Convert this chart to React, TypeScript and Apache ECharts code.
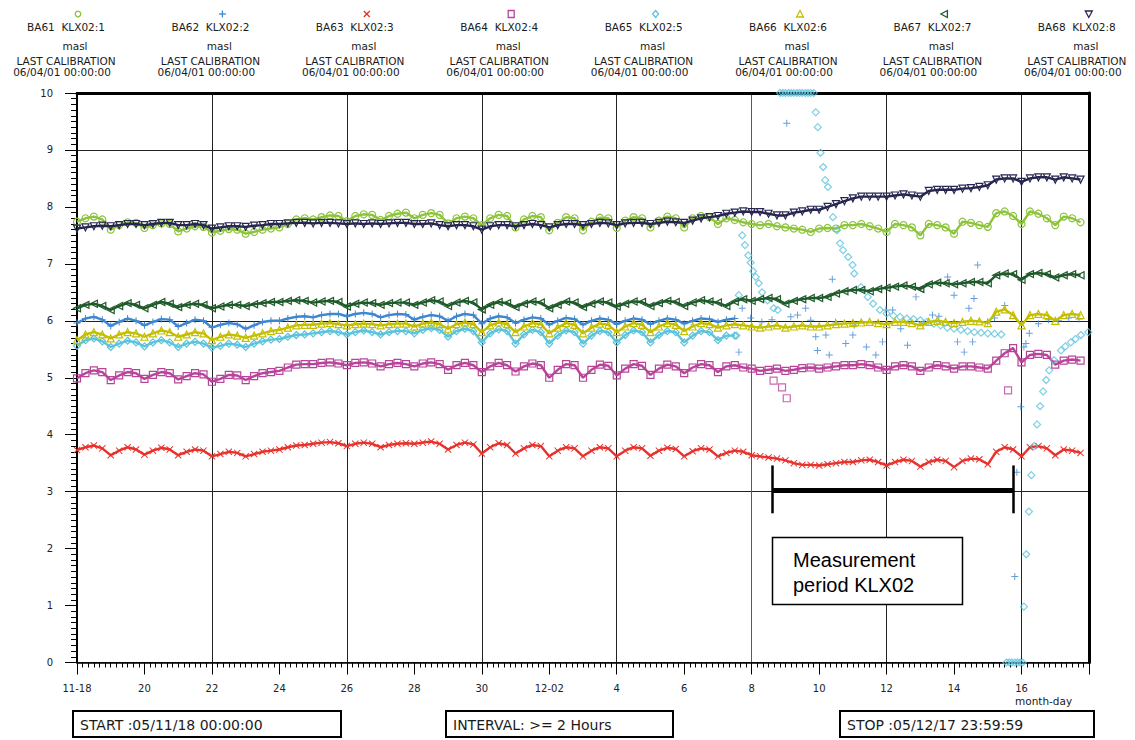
import React, { useEffect, useRef } from "react";
import * as echarts from "echarts";

// ---------- tick labels / legend texts ----------
const X_TICK_LABELS = ["11-18", "20", "22", "24", "26", "28", "30", "12-02", "4", "6", "8", "10", "12", "14", "16"];
const LEGEND_NAMES = ["BA61  KLX02:1", "BA62  KLX02:2", "BA63  KLX02:3", "BA64  KLX02:4", "BA65  KLX02:5", "BA66  KLX02:6", "BA67  KLX02:7", "BA68  KLX02:8"];
const UNIT = "masl";
const CALIB_TITLE = "LAST CALIBRATION";
const CALIB_DATE = "06/04/01 00:00:00";
const START_TEXT = "START :05/11/18 00:00:00";
const INTERVAL_TEXT = "INTERVAL: >= 2 Hours";
const STOP_TEXT = "STOP :05/12/17 23:59:59";
const NOTE_TEXT = "Measurement\nperiod KLX02";

// samples every 6 hours, starting 05/11/18 00:00 (day 0)
const SAMPLES_PER_DAY = 4;

// ---------- series values (masl) ----------
const BA61 = [
  7.74, 7.80, 7.83, 7.78, 7.60, 7.68, 7.73, 7.72, 7.63, 7.68, 7.71, 7.70, 7.57, 7.62, 7.66, 7.65,
  7.55, 7.58, 7.61, 7.60, 7.53, 7.56, 7.60, 7.62, 7.64, 7.70, 7.78, 7.80, 7.78, 7.82, 7.85, 7.84,
  7.75, 7.84, 7.87, 7.86, 7.77, 7.84, 7.88, 7.90, 7.80, 7.86, 7.89, 7.86, 7.71, 7.80, 7.83, 7.80,
  7.68, 7.80, 7.86, 7.84, 7.64, 7.78, 7.84, 7.82, 7.59, 7.72, 7.82, 7.80, 7.59, 7.74, 7.81, 7.80,
  7.63, 7.76, 7.82, 7.80, 7.64, 7.76, 7.83, 7.80, 7.64, 7.80, 7.84, 7.82, 7.70, 7.80, 7.77, 7.73,
  7.70, 7.68, 7.70, 7.66, 7.64, 7.62, 7.60, 7.56, 7.62, 7.63, 7.62, 7.68, 7.68, 7.70, 7.66, 7.62,
  7.56, 7.70, 7.68, 7.64, 7.50, 7.70, 7.68, 7.64, 7.53, 7.74, 7.72, 7.68, 7.65, 7.89, 7.92, 7.84,
  7.70, 7.92, 7.88, 7.80, 7.68, 7.83, 7.80, 7.73,
];
// regular band up to 12/07 12:00, afterwards scattered readings
const BA62 = [
  5.96, 6.04, 6.07, 6.02, 5.91, 5.98, 6.04, 6.00, 5.92, 5.98, 6.03, 6.02, 5.90, 5.96, 6.02, 6.00,
  5.88, 5.93, 5.96, 5.94, 5.86, 5.92, 5.98, 6.00, 6.00, 6.04, 6.07, 6.08, 6.06, 6.10, 6.12, 6.12,
  6.08, 6.12, 6.14, 6.12, 6.06, 6.10, 6.12, 6.11, 6.02, 6.07, 6.10, 6.08, 6.00, 6.08, 6.12, 6.10,
  5.95, 6.04, 6.08, 6.06, 5.96, 6.02, 6.06, 6.04, 5.93, 6.00, 6.05, 6.03, 5.93, 6.00, 6.04, 6.02,
  5.94, 6.00, 6.04, 6.02, 5.94, 6.00, 6.04, 6.02, 5.95, 6.00, 6.04, 6.03, 5.98, 6.02, 6.04,
];
const BA62_SCATTER = [
  [19.62, 5.45], [19.72, 6.22], [19.97, 6.05], [20.3, 5.98], [20.6, 6.02], [21.04, 9.47], [21.16, 6.07],
  [21.36, 6.10], [21.6, 6.22], [21.75, 6.01], [21.9, 5.72], [21.95, 5.48], [22.2, 5.75], [22.3, 5.40],
  [22.39, 6.73], [22.49, 5.98], [22.79, 5.60], [23.0, 5.75], [23.04, 5.92], [23.4, 5.54], [23.68, 5.40],
  [23.88, 5.63], [23.98, 6.19], [24.18, 6.19], [24.42, 5.86], [24.62, 5.57], [24.87, 6.42], [25.1, 5.96],
  [25.36, 6.10], [25.55, 6.08], [25.81, 6.77], [26.0, 6.45], [26.1, 5.63], [26.3, 5.45], [26.44, 6.22],
  [26.55, 5.63], [26.59, 6.39], [26.7, 6.98], [27.0, 5.98], [27.2, 6.05], [27.5, 6.27], [27.8, 1.51],
  [27.86, 3.34], [27.98, 4.49], [28.07, 5.54], [28.13, 5.60], [28.23, 5.78], [28.5, 5.95], [28.8, 6.02],
  [29.1, 6.00], [29.4, 6.05], [29.7, 6.03],
];
const BA63 = [
  3.73, 3.78, 3.81, 3.76, 3.64, 3.72, 3.78, 3.74, 3.65, 3.72, 3.77, 3.74, 3.64, 3.70, 3.74, 3.72,
  3.62, 3.66, 3.70, 3.68, 3.62, 3.66, 3.70, 3.72, 3.74, 3.78, 3.81, 3.82, 3.84, 3.86, 3.87, 3.85,
  3.80, 3.84, 3.86, 3.84, 3.78, 3.82, 3.84, 3.85, 3.84, 3.86, 3.88, 3.84, 3.74, 3.82, 3.86, 3.83,
  3.67, 3.78, 3.85, 3.82, 3.67, 3.76, 3.82, 3.80, 3.62, 3.72, 3.78, 3.76, 3.62, 3.72, 3.78, 3.76,
  3.62, 3.72, 3.78, 3.76, 3.63, 3.72, 3.77, 3.75, 3.62, 3.71, 3.76, 3.74, 3.62, 3.68, 3.72, 3.70,
  3.64, 3.62, 3.60, 3.58, 3.55, 3.50, 3.47, 3.47, 3.46, 3.48, 3.50, 3.52, 3.52, 3.55, 3.56, 3.52,
  3.46, 3.52, 3.56, 3.54, 3.44, 3.52, 3.56, 3.54, 3.43, 3.54, 3.58, 3.57, 3.48, 3.70, 3.78, 3.74,
  3.62, 3.78, 3.80, 3.76, 3.64, 3.74, 3.72, 3.68,
];
const BA64 = [
  4.99, 5.08, 5.13, 5.10, 4.96, 5.04, 5.10, 5.08, 4.98, 5.05, 5.10, 5.08, 4.97, 5.03, 5.08, 5.06,
  4.93, 4.98, 5.05, 5.04, 4.96, 5.03, 5.08, 5.10, 5.12, 5.18, 5.23, 5.24, 5.24, 5.26, 5.27, 5.25,
  5.22, 5.26, 5.27, 5.25, 5.20, 5.24, 5.26, 5.24, 5.20, 5.25, 5.27, 5.24, 5.14, 5.22, 5.26, 5.22,
  5.10, 5.20, 5.26, 5.22, 5.11, 5.20, 5.25, 5.22, 5.00, 5.14, 5.24, 5.22, 5.00, 5.14, 5.23, 5.21,
  5.04, 5.16, 5.24, 5.21, 5.05, 5.16, 5.23, 5.20, 5.08, 5.18, 5.24, 5.22, 5.10, 5.20, 5.22, 5.18,
  5.16, 5.12, 5.14, 5.16, 5.12, 5.14, 5.17, 5.18, 5.16, 5.18, 5.20, 5.22, 5.22, 5.24, 5.22, 5.18,
  5.14, 5.20, 5.22, 5.20, 5.12, 5.18, 5.22, 5.20, 5.16, 5.20, 5.20, 5.18, 5.16, 5.30, 5.43, 5.52,
  5.27, 5.40, 5.42, 5.40, 5.23, 5.30, 5.32, 5.30,
];
const BA64_SCATTER = [[20.65, 4.95], [20.9, 4.83], [21.04, 4.64], [27.6, 4.78]];
// regular band up to 12/07 12:00, then the disturbed record
const BA65 = [
  5.56, 5.66, 5.69, 5.64, 5.54, 5.60, 5.65, 5.62, 5.55, 5.62, 5.66, 5.62, 5.54, 5.60, 5.63, 5.60,
  5.53, 5.56, 5.60, 5.58, 5.54, 5.60, 5.64, 5.67, 5.68, 5.72, 5.75, 5.76, 5.78, 5.80, 5.82, 5.80,
  5.76, 5.80, 5.83, 5.80, 5.76, 5.80, 5.82, 5.82, 5.78, 5.84, 5.87, 5.84, 5.72, 5.82, 5.86, 5.82,
  5.62, 5.78, 5.85, 5.82, 5.60, 5.76, 5.84, 5.80, 5.60, 5.74, 5.83, 5.80, 5.60, 5.74, 5.82, 5.80,
  5.62, 5.75, 5.83, 5.80, 5.62, 5.75, 5.82, 5.80, 5.62, 5.74, 5.82, 5.80, 5.66, 5.74, 5.74,
];
const BA65_SCATTER = [
  [19.55, 5.74], [19.62, 6.45], [19.72, 7.50], [19.80, 7.33], [19.90, 7.15], [19.97, 7.02], [20.04, 6.87],
  [20.12, 6.77], [20.21, 6.66], [20.31, 6.50], [20.47, 6.36], [20.65, 6.22], [20.77, 6.19],
  [20.84, 10], [20.92, 10], [21.0, 10], [21.09, 10], [21.17, 10], [21.25, 10], [21.34, 10], [21.42, 10],
  [21.5, 10], [21.59, 10], [21.67, 10], [21.75, 10], [21.84, 10],
  [21.90, 9.66], [21.96, 9.40], [22.04, 8.95], [22.12, 8.70], [22.18, 8.47], [22.26, 8.35], [22.41, 7.82],
  [22.53, 7.59], [22.62, 7.36], [22.71, 7.24], [22.86, 7.12], [22.99, 6.98], [23.04, 6.83], [23.24, 6.59],
  [23.44, 6.42], [23.6, 6.30], [23.8, 6.19], [24.0, 6.13], [24.2, 6.09], [24.4, 6.07], [24.6, 6.04],
  [24.8, 6.03], [25.0, 6.01], [25.2, 5.98], [25.4, 5.95], [25.6, 5.92], [25.8, 5.88], [26.0, 5.86],
  [26.2, 5.84], [26.4, 5.82], [26.6, 5.80], [26.8, 5.79], [27.0, 5.78], [27.2, 5.77], [27.4, 5.76],
  [27.55, 0], [27.63, 0], [27.71, 0], [27.8, 0], [27.88, 0], [27.96, 0], [28.03, 0],
  [28.07, 0.98], [28.14, 1.90], [28.22, 2.65], [28.29, 3.29], [28.37, 3.80], [28.46, 4.18], [28.55, 4.50],
  [28.64, 4.76], [28.73, 4.96], [28.82, 5.13], [28.96, 5.31], [29.17, 5.48], [29.3, 5.55], [29.46, 5.62],
  [29.6, 5.68], [29.76, 5.75], [29.98, 5.80],
];
const BA66 = [
  5.66, 5.76, 5.80, 5.76, 5.69, 5.76, 5.80, 5.78, 5.72, 5.78, 5.83, 5.80, 5.72, 5.76, 5.80, 5.78,
  5.66, 5.72, 5.76, 5.74, 5.70, 5.74, 5.78, 5.82, 5.84, 5.88, 5.92, 5.93, 5.93, 5.95, 5.96, 5.94,
  5.92, 5.94, 5.95, 5.94, 5.92, 5.94, 5.95, 5.95, 5.90, 5.95, 5.97, 5.94, 5.86, 5.94, 5.97, 5.94,
  5.80, 5.92, 5.97, 5.94, 5.80, 5.90, 5.96, 5.94, 5.78, 5.88, 5.96, 5.93, 5.78, 5.88, 5.95, 5.93,
  5.80, 5.90, 5.96, 5.93, 5.80, 5.90, 5.96, 5.93, 5.82, 5.90, 5.96, 5.94, 5.88, 5.92, 5.94, 5.92,
  5.90, 5.88, 5.90, 5.92, 5.88, 5.90, 5.92, 5.90, 5.90, 5.92, 5.94, 5.95, 5.96, 5.97, 5.98, 5.96,
  5.94, 5.98, 5.98, 5.96, 5.92, 5.98, 6.00, 5.98, 5.96, 5.98, 6.00, 5.99, 5.96, 6.16, 6.20, 6.10,
  5.92, 6.10, 6.12, 6.10, 6.00, 6.10, 6.12, 6.10,
];
const BA67 = [
  6.22, 6.28, 6.30, 6.26, 6.19, 6.26, 6.31, 6.28, 6.22, 6.28, 6.33, 6.30, 6.24, 6.28, 6.30, 6.28,
  6.22, 6.25, 6.28, 6.28, 6.26, 6.29, 6.31, 6.33, 6.33, 6.35, 6.36, 6.35, 6.32, 6.34, 6.35, 6.33,
  6.25, 6.30, 6.32, 6.31, 6.28, 6.31, 6.32, 6.32, 6.28, 6.32, 6.36, 6.34, 6.26, 6.32, 6.35, 6.32,
  6.20, 6.28, 6.33, 6.31, 6.24, 6.30, 6.34, 6.32, 6.22, 6.28, 6.34, 6.32, 6.24, 6.30, 6.34, 6.32,
  6.25, 6.30, 6.34, 6.33, 6.26, 6.31, 6.35, 6.33, 6.26, 6.32, 6.36, 6.34, 6.32, 6.26, 6.34, 6.38,
  6.35, 6.38, 6.40, 6.38, 6.30, 6.35, 6.38, 6.40, 6.40, 6.42, 6.48, 6.52, 6.54, 6.54, 6.52, 6.56,
  6.58, 6.60, 6.62, 6.60, 6.56, 6.64, 6.67, 6.66, 6.64, 6.66, 6.68, 6.68, 6.66, 6.80, 6.83, 6.82,
  6.72, 6.82, 6.84, 6.82, 6.76, 6.80, 6.82, 6.80,
];
const BA68 = [
  7.62, 7.64, 7.66, 7.67, 7.66, 7.68, 7.70, 7.70, 7.68, 7.70, 7.72, 7.72, 7.68, 7.68, 7.70, 7.68,
  7.62, 7.64, 7.66, 7.66, 7.65, 7.67, 7.68, 7.70, 7.70, 7.71, 7.72, 7.72, 7.71, 7.72, 7.72, 7.71,
  7.70, 7.71, 7.70, 7.71, 7.70, 7.71, 7.72, 7.72, 7.70, 7.70, 7.71, 7.68, 7.66, 7.68, 7.68, 7.66,
  7.60, 7.66, 7.68, 7.68, 7.66, 7.68, 7.70, 7.68, 7.64, 7.68, 7.70, 7.70, 7.68, 7.70, 7.72, 7.71,
  7.68, 7.71, 7.72, 7.72, 7.70, 7.72, 7.74, 7.73, 7.72, 7.76, 7.80, 7.82, 7.84, 7.88, 7.90, 7.92,
  7.91, 7.91, 7.88, 7.85, 7.85, 7.90, 7.92, 7.95, 7.95, 8.00, 8.05, 8.10, 8.15, 8.18, 8.18, 8.18,
  8.18, 8.20, 8.22, 8.20, 8.18, 8.28, 8.30, 8.30, 8.30, 8.32, 8.33, 8.35, 8.38, 8.48, 8.50, 8.50,
  8.44, 8.50, 8.52, 8.52, 8.48, 8.52, 8.50, 8.48,
];

// measurement period of KLX02 (days from start) and the level at which it is marked
const PERIOD = [20.62, 27.76];
const PERIOD_LEVEL = 3.03;
const PERIOD_TICK = [2.62, 3.46];
const HIGHLIGHT_DAY = 20;

// ---------- styles ----------
const COLORS = ["#8cc43c", "#3f86d0", "#e8322c", "#b8449a", "#5cc3dc", "#c3bf00", "#1f5a2a", "#262650"];
const PLUS = "path://M4.3,0H5.7V4.3H10V5.7H5.7V10H4.3V5.7H0V4.3H4.3Z";
const CROSS = "path://M1,0L5,4L9,0L10,1L6,5L10,9L9,10L5,6L1,10L0,9L4,5L0,1Z";
const LEFT_TRI = "path://M0,5L9,0L9,10Z";
const DOWN_TRI = "path://M0,0L10,0L5,9Z";
const SYMBOLS = ["circle", PLUS, CROSS, "rect", "diamond", "triangle", LEFT_TRI, DOWN_TRI];
const FILLED = [false, true, true, false, false, false, false, false];
const FONT = "DejaVu Sans";

const toPairs = (vals: number[]) => vals.map((v, i) => [i / SAMPLES_PER_DAY, v]);

function itemStyleFor(i: number) {
  return FILLED[i]
    ? { color: COLORS[i], borderWidth: 0 }
    : { color: "rgba(255,255,255,0)", borderColor: COLORS[i], borderWidth: 1.2 };
}

function bandSeries(i: number, vals: number[], extra: any = {}) {
  return {
    type: "line",
    name: LEGEND_NAMES[i],
    data: toPairs(vals),
    symbol: SYMBOLS[i],
    symbolSize: 7,
    showSymbol: true,
    lineStyle: { color: COLORS[i], width: 2.4 },
    itemStyle: itemStyleFor(i),
    emphasis: { disabled: true },
    silent: true,
    z: 2 + i,
    ...extra,
  };
}

function scatterSeries(i: number, pts: number[][]) {
  return {
    type: "scatter",
    name: LEGEND_NAMES[i] + " scatter",
    data: pts,
    symbol: SYMBOLS[i],
    symbolSize: 7,
    itemStyle: itemStyleFor(i),
    emphasis: { disabled: true },
    silent: true,
    clip: false,
    z: 2 + i,
  };
}

function legendSymbol(i: number, x: number, y: number): any {
  const c = COLORS[i];
  const st = { fill: "none", stroke: c, lineWidth: 1.3 };
  switch (i) {
    case 0:
      return { type: "circle", shape: { cx: x, cy: y, r: 2.8 }, style: st };
    case 1:
      return {
        type: "group",
        children: [
          { type: "line", shape: { x1: x - 3.5, y1: y, x2: x + 3.5, y2: y }, style: st },
          { type: "line", shape: { x1: x, y1: y - 3.5, x2: x, y2: y + 3.5 }, style: st },
        ],
      };
    case 2:
      return {
        type: "group",
        children: [
          { type: "line", shape: { x1: x - 3, y1: y - 3, x2: x + 3, y2: y + 3 }, style: st },
          { type: "line", shape: { x1: x - 3, y1: y + 3, x2: x + 3, y2: y - 3 }, style: st },
        ],
      };
    case 3:
      return { type: "rect", shape: { x: x - 3, y: y - 3.5, width: 6, height: 7 }, style: st };
    case 4:
      return { type: "polygon", shape: { points: [[x, y - 3.5], [x + 3, y], [x, y + 3.5], [x - 3, y]] }, style: st };
    case 5:
      return { type: "polygon", shape: { points: [[x, y - 3.5], [x + 3.5, y + 3], [x - 3.5, y + 3]] }, style: st };
    case 6:
      return { type: "polygon", shape: { points: [[x - 3.5, y], [x + 3, y - 3.5], [x + 3, y + 3.5]] }, style: st };
    default:
      return { type: "polygon", shape: { points: [[x - 3.5, y - 3], [x + 3.5, y - 3], [x, y + 3.5]] }, style: st };
  }
}

function buildGraphic() {
  const els: any[] = [];
  const txt = (text: string, x: number, y: number, align: string, size: number, extra: any = {}) => ({
    type: "text",
    x,
    y,
    silent: true,
    z: 100,
    style: { text, fill: "#1a1a1a", font: `${size}px '${FONT}'`, align, verticalAlign: "middle", ...extra },
  });
  LEGEND_NAMES.forEach((name, i) => {
    const cx = 66 + 144.4 * i;
    const s = legendSymbol(i, cx + 12, 14);
    s.z = 100;
    els.push(s);
    els.push(txt(name, cx, 27, "center", 10.5));
    els.push(txt(UNIT, cx + 9, 46, "center", 10.5));
    els.push(txt(CALIB_TITLE, cx, 61, "center", 10.5));
    els.push(txt(CALIB_DATE, cx - 4, 72, "center", 10.5));
  });
  els.push(txt("month-day", 1015, 701, "left", 10.5));
  const box = (x: number, w: number, text: string) => {
    els.push({
      type: "rect",
      z: 100,
      silent: true,
      shape: { x, y: 711, width: w, height: 26 },
      style: { fill: "#fff", stroke: "#000", lineWidth: 2 },
    });
    els.push(txt(text, x + 7, 724.5, "left", 14));
  };
  box(73, 268, START_TEXT);
  box(446, 227, INTERVAL_TEXT);
  box(840, 254, STOP_TEXT);
  els.push({
    type: "rect",
    z: 100,
    silent: true,
    shape: { x: 772.5, y: 537.5, width: 190, height: 67 },
    style: { fill: "#fff", stroke: "#000", lineWidth: 1.5 },
  });
  els.push({
    type: "text",
    x: 793,
    y: 547,
    z: 101,
    silent: true,
    style: {
      text: NOTE_TEXT,
      fill: "#000",
      font: "20px 'Liberation Sans', Arial, sans-serif",
      lineHeight: 25,
      align: "left",
      verticalAlign: "top",
    },
  });
  return els;
}

function buildOption(): any {
  const gridColors = [0, 4, 8, 12, 16, 20, 24, 28, 30].map((d) => (d === HIGHLIGHT_DAY ? "#7a4b4b" : "#222"));
  const series: any[] = [
    bandSeries(0, BA61),
    bandSeries(1, BA62),
    scatterSeries(1, BA62_SCATTER),
    bandSeries(2, BA63, {
      markLine: {
        silent: true,
        symbol: ["none", "none"],
        label: { show: false },
        emphasis: { disabled: true },
        lineStyle: { color: "#000", type: "solid", width: 5 },
        data: [
          [{ coord: [PERIOD[0], PERIOD_LEVEL], lineStyle: { width: 5, color: "#000", type: "solid" } }, { coord: [PERIOD[1], PERIOD_LEVEL] }],
          [{ coord: [PERIOD[0], PERIOD_TICK[0]], lineStyle: { width: 2.5, color: "#000", type: "solid" } }, { coord: [PERIOD[0], PERIOD_TICK[1]] }],
          [{ coord: [PERIOD[1], PERIOD_TICK[0]], lineStyle: { width: 2.5, color: "#000", type: "solid" } }, { coord: [PERIOD[1], PERIOD_TICK[1]] }],
        ],
      },
    }),
    bandSeries(3, BA64),
    scatterSeries(3, BA64_SCATTER),
    bandSeries(4, BA65),
    scatterSeries(4, BA65_SCATTER),
    bandSeries(5, BA66),
    bandSeries(6, BA67),
    bandSeries(7, BA68),
  ];
  return {
    animation: false,
    backgroundColor: "#fff",
    textStyle: { fontFamily: FONT },
    grid: { left: 77, top: 93, right: 46, bottom: 77.5, containLabel: false },
    xAxis: [
      {
        type: "value",
        min: 0,
        max: 30,
        interval: 2,
        position: "bottom",
        axisLine: { show: true, onZero: false, lineStyle: { color: "#000", width: 1.5 } },
        axisTick: { show: true, length: 12, lineStyle: { color: "#000", width: 1 } },
        minorTick: { show: true, splitNumber: 12, length: 5, lineStyle: { color: "#000", width: 1 } },
        axisLabel: {
          margin: 21,
          fontSize: 10,
          color: "#222",
          fontFamily: FONT,
          showMinLabel: true,
          showMaxLabel: true,
          formatter: (v: number) => X_TICK_LABELS[Math.round(v / 2)] ?? "",
        },
        splitLine: { show: false },
      },
      {
        type: "value",
        min: 0,
        max: 30,
        interval: 4,
        position: "top",
        axisLine: { show: true, onZero: false, lineStyle: { color: "#000", width: 3 } },
        axisTick: { show: false },
        axisLabel: { show: false },
        splitLine: { show: true, lineStyle: { color: gridColors, width: 1 } },
      },
    ],
    yAxis: [
      {
        type: "value",
        min: 0,
        max: 10,
        interval: 1,
        position: "left",
        axisLine: { show: true, onZero: false, lineStyle: { color: "#000", width: 2 } },
        axisTick: { show: true, length: 12, lineStyle: { color: "#000", width: 1 } },
        minorTick: { show: true, splitNumber: 10, length: 6, lineStyle: { color: "#000", width: 1 } },
        axisLabel: { margin: 24, fontSize: 10, color: "#222", fontFamily: FONT },
        splitLine: { show: false },
      },
      {
        type: "value",
        min: 0,
        max: 10,
        interval: 3,
        position: "right",
        axisLine: { show: true, onZero: false, lineStyle: { color: "#000", width: 3 } },
        axisTick: { show: false },
        axisLabel: { show: false },
        splitLine: { show: true, lineStyle: { color: "#222", width: 1 } },
      },
    ],
    series,
    graphic: buildGraphic(),
  };
}

export default function App() {
  const ref = useRef<HTMLDivElement>(null);
  useEffect(() => {
    if (!ref.current) return;
    const chart = echarts.init(ref.current, null, { renderer: "svg" });
    chart.setOption(buildOption());
    return () => chart.dispose();
  }, []);
  return (
    <div
      ref={ref}
      style={{ position: "absolute", left: 0, top: 0, width: 1135, height: 740, background: "#fff" }}
    />
  );
}
